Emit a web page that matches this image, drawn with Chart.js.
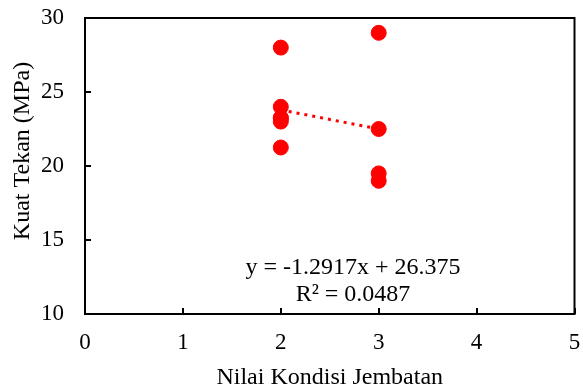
<!DOCTYPE html>
<html>
<head>
<meta charset="utf-8">
<script src="https://cdn.jsdelivr.net/npm/chart.js@4.4.1/dist/chart.umd.min.js"></script>
<style>
  html, body { margin: 0; padding: 0; background: #fff; }
  #wrap { width: 583px; height: 392px; }
</style>
</head>
<body>
<div id="wrap"><canvas id="chart" width="583" height="392"></canvas></div>
<script>
"use strict";

// kondisi jembatan vs kuat tekan
var x_vals = [2, 2, 2, 2, 2, 2, 3, 3, 3, 3];
var y_vals = [28, 24, 23.25, 23.25, 23, 21.25, 29, 22.5, 19.5, 19];

// excel linear trendline
var trend_slope = -1.2917;
var trend_icept = 26.375;
var trend_x = [2, 3];
var eq_lines = ["y = -1.2917x + 26.375", "R² = 0.0487"];

var x_ticks = [0, 1, 2, 3, 4, 5];
var y_ticks = [10, 15, 20, 25, 30];
var x_title = "Nilai Kondisi Jembatan";
var y_title = "Kuat Tekan (MPa)";

var font_name = "'Liberation Serif', 'Times New Roman', serif";

var points = x_vals.map(function(x, i) { return {x: x, y: y_vals[i]}; });
var trend = trend_x.map(function(x) { return {x: x, y: trend_slope * x + trend_icept}; });

var frame_plugin = {
    id: "frame",
    afterDatasetsDraw: function(c) {
        var ctx = c.ctx;
        var a = c.chartArea;
        var xs = c.scales.x, ys = c.scales.y;
        ctx.save();
        ctx.strokeStyle = "#000";
        ctx.lineWidth = 2;
        ctx.strokeRect(a.left, a.top, a.right - a.left, a.bottom - a.top);
        ctx.beginPath();
        x_ticks.forEach(function(v) {
            var px = Math.round(xs.getPixelForValue(v));
            ctx.moveTo(px, a.bottom);
            ctx.lineTo(px, a.bottom - 6);
        });
        y_ticks.forEach(function(v) {
            var py = Math.round(ys.getPixelForValue(v));
            ctx.moveTo(a.left, py);
            ctx.lineTo(a.left + 6, py);
        });
        ctx.stroke();

        ctx.fillStyle = "#000";
        ctx.font = "24px " + font_name;
        ctx.textAlign = "center";
        ctx.textBaseline = "middle";
        ctx.fillText(eq_lines[0], 353, 268);
        ctx.fillText(eq_lines[1], 353, 295);

        // y title sits a bit above the middle of the axis
        ctx.translate(23, 151);
        ctx.rotate(-Math.PI / 2);
        ctx.fillText(y_title, 0, 0);
        ctx.restore();
    }
};

var chart_context = document.getElementById("chart").getContext("2d");
var chart = new Chart(chart_context, {
    type: "scatter",
    data: {
        datasets: [{
            label: "Kuat Tekan",
            data: points,
            backgroundColor: "#ff0000",
            borderColor: "#ff0000",
            pointRadius: 7.5,
            pointHoverRadius: 7.5,
            order: 1
        }, {
            type: "line",
            label: "Linear",
            data: trend,
            borderColor: "#ff0000",
            borderWidth: 3,
            borderDash: [3, 5],
            pointRadius: 0,
            fill: false,
            order: 0
        }]
    },
    options: {
        responsive: false,
        animation: false,
        layout: { padding: { left: 0, right: 6, top: 18, bottom: 0 } },
        plugins: { legend: { display: false }, tooltip: { enabled: false } },
        scales: {
            x: {
                type: "linear",
                min: 0, max: 5,
                afterBuildTicks: function(s) { s.ticks = x_ticks.map(function(v) { return {value: v}; }); },
                afterFit: function(s) { s.height = 78; s.paddingRight = 0; s.paddingLeft = 0; },
                grid: { display: false, drawTicks: false },
                border: { display: false },
                ticks: { color: "#000", font: { family: font_name, size: 23 }, padding: 15, maxRotation: 0 },
                title: { display: true, text: x_title, color: "#000",
                         font: { family: font_name, size: 24 }, padding: { top: 4, bottom: 0 } }
            },
            y: {
                min: 10, max: 30,
                afterBuildTicks: function(s) { s.ticks = y_ticks.map(function(v) { return {value: v}; }); },
                afterFit: function(s) { s.width = 85; s.paddingTop = 0; s.paddingBottom = 0; },
                grid: { display: false, drawTicks: false },
                border: { display: false },
                ticks: { color: "#000", font: { family: font_name, size: 23 }, padding: 21 },
                title: { display: false }
            }
        }
    },
    plugins: [frame_plugin]
});
</script>
</body>
</html>
